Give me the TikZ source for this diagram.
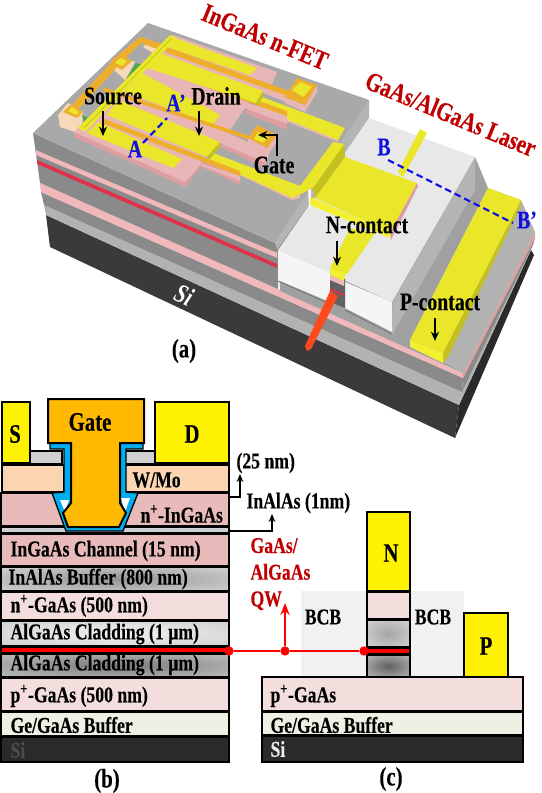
\documentclass[tikz,border=0pt]{standalone}
\usepackage{fontspec}
\setmainfont[FakeStretch=0.78,BoldFeatures={FakeBold=0.25}]{Liberation Serif}
\usetikzlibrary{arrows.meta}
\definecolor{topgray}{HTML}{A9A9A9}
\definecolor{facegray}{HTML}{8A8A8A}
\definecolor{sidegray}{HTML}{B4B4B4}
\definecolor{ledgegray}{HTML}{A0A0A0}
\definecolor{litegray}{HTML}{B2B2B2}
\definecolor{sidark}{HTML}{3A3A3A}
\definecolor{pinktop}{HTML}{E8B6B6}
\definecolor{pinkside}{HTML}{DC9E9E}
\definecolor{pinkband}{HTML}{F0B8BA}
\definecolor{redline}{HTML}{E0304A}
\definecolor{ylw}{HTML}{EAE62A}
\definecolor{ylwdark}{HTML}{C4C020}
\definecolor{ylwfront}{HTML}{F2F030}
\definecolor{orng}{HTML}{EDAE2C}
\definecolor{beige}{HTML}{F5D9B8}
\definecolor{bcbtop}{HTML}{E8E8E8}
\definecolor{bcbfront}{HTML}{F5F5F5}
\definecolor{laserred}{HTML}{FF4A20}
\definecolor{darkred}{HTML}{C00000}
\definecolor{lblblue}{HTML}{1010E0}
\definecolor{chanpink}{HTML}{E8BABA}
\definecolor{lightpink}{HTML}{F3DDDD}
\definecolor{bufcream}{HTML}{F0EFE3}
\definecolor{sifill}{HTML}{2A2A2A}
\definecolor{wmo}{HTML}{FBD5B2}
\definecolor{capgray}{HTML}{D0D0D0}
\definecolor{gateorng}{HTML}{FFB900}
\definecolor{linerblue}{HTML}{00AEEF}
\definecolor{bcbflat}{HTML}{F1F1F1}
\pgfdeclareradialshading{glowlow}{\pgfpointorigin}{color(0bp)=(black!52); color(50bp)=(black!15)}
\pgfdeclareradialshading{glowhigh}{\pgfpointorigin}{color(0bp)=(black!5); color(50bp)=(black!24)}
\pgfdeclareradialshading{glowbuf}{\pgfpointorigin}{color(0bp)=(black!42); color(50bp)=(black!8)}
\pgfdeclareradialshading{glowpilup}{\pgfpointorigin}{color(0bp)=(black!35); color(50bp)=(black!10)}
\pgfdeclareradialshading{glowpildn}{\pgfpointorigin}{color(0bp)=(black!62); color(50bp)=(black!14)}
\tikzset{every picture/.style={line width=0.75pt},
  lbl/.style={font=\bfseries\fontsize{19}{19}\selectfont,inner sep=0.75pt},
  biglbl/.style={font=\bfseries\fontsize{20}{20}\selectfont,inner sep=0.75pt},
  laylbl/.style={font=\bfseries\fontsize{17}{17}\selectfont,inner sep=0.75pt,anchor=west},
  bluelbl/.style={lbl,text=lblblue},
  titlelbl/.style={font=\bfseries\fontsize{20}{20}\selectfont,inner sep=0.75pt,text=darkred,rotate=-22.5},
  layerbox/.style={draw=black,line width=1.5pt},
  blackarrow/.style={-{Stealth[length=7pt,width=6pt]},line width=1.5pt},
  bluedash/.style={draw=lblblue,line width=1.6pt,dash pattern={on 5pt off 3pt}},
  qwdot/.style={circle,fill=red,inner sep=0pt,minimum size=7pt},
  qwline/.style={draw=red,line width=1.8pt}}
\begin{document}
\begin{tikzpicture}[x=0.75pt,y=0.75pt,yscale=-1,xscale=1]
\useasboundingbox (0,0) rectangle (542,793);

%Block of panel (a): lower layers
\fill[sidark] (46,215) -- (459,405) -- (455,438) -- (50,247) -- cycle;
\fill[sifill] (459,405) -- (531,250) -- (534,255) -- (455,438) -- cycle;
\fill[litegray] (44,205) -- (462,392) -- (459,405) -- (46,215) -- cycle;
\fill[litegray] (462,392) -- (533,245) -- (531,250) -- (459,405) -- cycle;
\fill[facegray] (41,192) -- (463,378) -- (462,392) -- (44,205) -- cycle;
\fill[facegray] (463,378) -- (535,238) -- (533,245) -- (462,392) -- cycle;
\fill[pinkband] (40,183) -- (463,373) -- (463,378) -- (41,192) -- cycle;
\fill[pinkside] (463,373) -- (535,232) -- (535,238) -- (463,378) -- cycle;

%Ledge under the laser
\fill[ledgegray] (278,250) -- (475,157) -- (488,188) -- (410,340) -- (463,373) -- (280,291) -- cycle;
\fill[litegray] (488,188) -- (521,200) -- (535,232) -- (463,373) -- (410,340) -- cycle;
\fill[sidegray] (475,157) -- (475,190) -- (392,335) -- (393,302) -- cycle;
\draw[black!55,line width=0.6pt] (278,281) -- (330,304);
\draw[black!55,line width=0.6pt] (345,310) -- (392,334);

%Front face of the FET mesa
\fill[facegray] (33,133) -- (275,243) -- (278,250) -- (278,290) -- (40,183) -- cycle;
\fill[pinkband] (35.5,150) -- (275,252) -- (277,252) -- (277,258) -- (36,155) -- cycle;
\fill[redline] (37,160) -- (277,264) -- (277,268) -- (37,164) -- cycle;
\fill[pinkband] (40,183) -- (280,290) -- (280,296) -- (41,192) -- cycle;
\fill[sidegray] (369,100) -- (369,120) -- (278,250) -- (275,243) -- cycle;
\draw[black!70,line width=0.7pt] (369,120) -- (278,250);

%Top of the FET mesa
\fill[topgray] (33,133) -- (148,23) -- (369,100) -- (275,243) -- cycle;

%Laser BCB
\fill[bcbtop] (369,118) -- (475,157) -- (392,302) -- (278,250) -- cycle;
\fill[bcbfront] (278,250) -- (330,273) -- (330,302) -- (278,280) -- cycle;
\fill[bcbfront] (345,282) -- (392,302) -- (392,332) -- (345,308) -- cycle;
\fill[white] (308,187) -- (311,187) -- (311,207) -- (309,207) -- cycle;

%Pillar under the N contact
\fill[facegray!70!black] (330,272) -- (345,279) -- (345,308) -- (330,302) -- cycle;
\fill[pinkband] (330,275) -- (344,281) -- (344,286) -- (330,280) -- cycle;
\fill[redline] (330,288) -- (344,294) -- (344,296) -- (330,290) -- cycle;
\fill[ylwfront] (330,268) -- (345,274) -- (344,281) -- (330,275) -- cycle;

%Laser beam
\fill[laserred] (330,291) -- (338,296) -- (311,349) -- (307,351) -- (305,346) -- cycle;

%N contact: narrow strips and pad
\fill[ylw] (420,129) -- (427,133) -- (403,177) -- (398,172) -- cycle;
\fill[ylw] (375,233) -- (347,274) -- (345,274) -- (330,268) -- (350,228) -- cycle;
\fill[pinkside] (417,183) -- (418,186) -- (391,240) -- (390,232) -- cycle;
\fill[ylwfront] (310,197) -- (390,232) -- (390,238) -- (310,205) -- cycle;
\fill[ylw] (345,157) -- (417,183) -- (390,232) -- (315,198) -- cycle;
\fill[ylwdark] (344,144) -- (345,157) -- (315,198) -- (313,188) -- cycle;

%Yellow traces over the mesa
\fill[pinktop] (208,160) -- (292,200) -- (300,198) -- (300,190) -- cycle;
\fill[pinktop] (258,110) -- (338,142) -- (338,139) -- (258,106) -- cycle;
\fill[ylw] (262,97) -- (345,128) -- (338,140) -- (258,108) -- cycle;
\fill[ylw] (333,142) -- (344,144) -- (313,188) -- (292,198) -- (208,160) -- (213,153) -- (300,186) -- cycle;

%P contact
\fill[ylwdark] (443,353) -- (443,363) -- (449,355) -- (521,205) -- (521,200) -- cycle;
\fill[ylwfront] (410,340) -- (443,353) -- (443,363) -- (410,347) -- cycle;
\fill[ylw] (488,188) -- (521,200) -- (443,353) -- (410,340) -- cycle;

%Pads behind the gate rail
\fill[beige] (58,115) -- (68,103) -- (83,112) -- (82,128) -- (75,132) -- (60,127) -- cycle;
\fill[beige] (112,68) -- (122,58) -- (135,62) -- (125,80) -- cycle;
\fill[beige] (143,47) -- (148,43) -- (158,48) -- (153,53) -- cycle;
\fill[green!50!black!70] (136,63) -- (143,65) -- (127,78) -- cycle;
\fill[green!50!black!70] (82,115) -- (88,118) -- (84,122) -- cycle;
\fill[orng] (72,105) -- (112,62) -- (118,66) -- (78,110) -- cycle;
\fill[orng] (112,60) -- (140,37) -- (172,47) -- (168,53) -- (141,43) -- (118,65) -- cycle;
\fill[orng] (63,112) -- (70,105) -- (83,112) -- (77,118) -- cycle;
\fill[ylw] (68,111) -- (72,107) -- (79,112) -- (76,115) -- cycle;
\fill[orng] (110,63) -- (120,53) -- (132,61) -- (122,70) -- cycle;
\fill[ylw] (115,63) -- (120,58) -- (127,61) -- (122,66) -- cycle;

%Pink comb of the FET, side then top
\fill[pinkside] (74,132) -- (74,137) -- (185,187) -- (201,167) -- (240,185) -- (240,173) -- (200,158) -- cycle;
\fill[pinkside] (220,147) -- (266,168) -- (267,155) -- (228,133) -- cycle;
\fill[pinkside] (245,113) -- (287,130) -- (287,116) -- (248,103) -- cycle;
\fill[pinktop] (74,132) -- (173,35) -- (277,72) -- (272,84) -- (256,92) -- (248,103) -- (287,116) -- (287,124) -- (245,108) -- (228,133) -- (270,152) -- (266,163) -- (220,143) -- (200,163) -- (240,176) -- (240,181) -- (200,165) -- (185,182) -- cycle;
\fill[pinktop] (262,84) -- (290,94) -- (286,102) -- (258,91) -- cycle;

%Gate finger lines behind the fingers
\fill[orng] (152,63) -- (287,111) -- (287,116) -- (152,68) -- cycle;
\fill[orng] (167,47) -- (300,95) -- (298,100) -- (165,52) -- cycle;

%Yellow fingers and bar
\fill[ylw] (87,133) -- (98,122) -- (182,159) -- (173,168) -- cycle;
\fill[ylw] (107,115) -- (118,100) -- (220,142) -- (207,157) -- cycle;
\fill[ylwdark] (220,142) -- (220,147) -- (210,159) -- (207,157) -- cycle;
\fill[ylw] (125,92) -- (142,73) -- (220,115) -- (213,125) -- cycle;
\fill[ylw] (147,68) -- (160,53) -- (263,91) -- (256,103) -- cycle;
\fill[ylwdark] (263,91) -- (263,97) -- (258,105) -- (256,103) -- cycle;
\fill[ylw] (167,47) -- (175,38) -- (257,68) -- (250,75) -- cycle;
\fill[orng] (102,118) -- (240,171) -- (240,176) -- (102,123) -- cycle;
\fill[orng] (103,87) -- (250,136) -- (250,140) -- (103,91) -- cycle;
\fill[ylw] (78,128) -- (170,35) -- (177,38) -- (85,132) -- cycle;
\draw[ylwdark,line width=0.5pt] (84,128) -- (172,38);

%Gate pads on the right
\fill[pinktop] (248,138) -- (267,148) -- (277,135) -- (277,142) -- (267,156) -- (248,146) -- cycle;
\fill[orng] (257,125) -- (277,135) -- (267,148) -- (248,138) -- cycle;
\fill[ylw] (258,132) -- (268,137) -- (263,143) -- (254,139) -- cycle;
\fill[pinktop] (285,97) -- (305,105) -- (317,85) -- (317,92) -- (305,112) -- (285,103) -- cycle;
\fill[orng] (297,78) -- (317,85) -- (305,105) -- (285,97) -- cycle;
\fill[ylw] (300,82) -- (312,87) -- (303,97) -- (292,90) -- cycle;

% Text Node
\node (titleFet) [titlelbl] at (265,37) {InGaAs n-FET};
\node (titleLaser) [titlelbl] at (451,114) {GaAs/AlGaAs Laser};
\node (lblSource) [lbl] at (113,96) {Source};
\node (lblDrain) [lbl] at (216,96) {Drain};
\node (lblGate) [lbl] at (274,165) {Gate};
\node (lblA) [bluelbl] at (135,149) {A};
\node (lblAp) [bluelbl] at (176,103) {A’};
\node (lblB) [bluelbl] at (384,147) {B};
\node (lblBp) [bluelbl] at (527,220) {B’};
\node (lblNc) [lbl] at (367,225) {N-contact};
\node (lblPc) [lbl] at (440,302) {P-contact};
\node (lblSi) [lbl,font=\bfseries\itshape\fontsize{20}{20}\selectfont,text=white,rotate=-25] at (184,295) {Si};
\node (lblPa) [biglbl] at (184,351) {(a)};

%Arrows of panel (a)
\coordinate (srcFrom) at (103,111);
\coordinate (srcTo) at (103,136);
\coordinate (drnFrom) at (199,111);
\coordinate (drnTo) at (199,136);
\coordinate (gatFrom) at (277,156);
\coordinate (gatMid) at (277,135);
\coordinate (gatTo) at (258,135);
\coordinate (nFrom) at (337,241);
\coordinate (nTo) at (337,266);
\coordinate (pFrom) at (435,318);
\coordinate (pTo) at (435,341);
\coordinate (aFrom) at (143,143);
\coordinate (aTo) at (167,118);
\coordinate (bFrom) at (388,160);
\coordinate (bTo) at (513,223);
\draw[blackarrow] (srcFrom) -- (srcTo);
\draw[blackarrow] (drnFrom) -- (drnTo);
\draw[blackarrow] (gatFrom) -- (gatMid) -- (gatTo);
\draw[blackarrow] (nFrom) -- (nTo);
\draw[blackarrow] (pFrom) -- (pTo);
\draw[bluedash] (aFrom) -- (aTo);
\draw[bluedash] (bFrom) -- (bTo);

%Stack of panel (b)
\draw[layerbox,fill=sifill] (1,737) rectangle (229,762);
\draw[layerbox,fill=bufcream] (1,712) rectangle (229,736);
\draw[layerbox,fill=lightpink] (1,678) rectangle (229,711);
\shadedraw[layerbox,shading=glowlow] (1,654) rectangle (229,677);
\draw[layerbox,fill=black] (1,646) rectangle (229,654);
\shadedraw[layerbox,shading=glowhigh] (1,621) rectangle (229,646);
\draw[layerbox,fill=lightpink] (1,592) rectangle (229,620);
\shadedraw[layerbox,shading=glowbuf] (1,567) rectangle (229,591);
\draw[layerbox,fill=chanpink] (1,534) rectangle (229,566);
\draw[layerbox,fill=capgray] (1,527) rectangle (229,533);
\draw[layerbox,fill=chanpink] (1,493) rectangle (229,526);
\draw[layerbox,fill=wmo] (2,465) rectangle (64,492);
\draw[layerbox,fill=wmo] (125,465) rectangle (229,492);
\draw[layerbox,fill=capgray] (30,451) rectangle (62,464);
\draw[layerbox,fill=capgray] (125,451) rectangle (155,464);
\draw[layerbox,fill=yellow] (2,402) rectangle (30,463);
\draw[layerbox,fill=yellow] (155,402) rectangle (229,463);

%Gate and its liner
\fill[linerblue,draw=black,line width=1pt] (50,443) -- (143,443) -- (143,449) -- (126,449) -- (126,492) -- (138,493) -- (123,531) -- (66,531) -- (52,493) -- (64,492) -- (64,449) -- (50,449) -- cycle;
\fill[white] (60,500) -- (69,500) -- (65,512) -- cycle;
\fill[white] (121,498) -- (130,498) -- (125,512) -- cycle;
\draw[layerbox,fill=gateorng] (48,399) -- (144,399) -- (144,443) -- (120,443) -- (120,503) -- (126,513) -- (119,527) -- (68,527) -- (63,513) -- (71,503) -- (71,443) -- (48,443) -- cycle;

%Red quantum well line
\draw[draw=red,line width=3pt] (2,650) -- (229,650);

%Stack of panel (c)
\fill[bcbflat] (301,591) rectangle (366,677);
\fill[bcbflat] (411,591) rectangle (464,677);
\draw[layerbox,fill=yellow] (367,512) rectangle (410,591);
\draw[layerbox,fill=lightpink] (367,592) rectangle (410,619);
\shadedraw[layerbox,shading=glowpilup] (367,620) rectangle (410,647);
\draw[layerbox,fill=black] (367,647) rectangle (410,655);
\draw[draw=red,line width=3pt] (364,651) -- (409,651);
\shadedraw[layerbox,shading=glowpildn] (367,655) rectangle (410,677);
\draw[layerbox,fill=yellow] (464,613) rectangle (508,677);
\draw[layerbox,fill=sifill] (262,736) rectangle (523,762);
\draw[layerbox,fill=bufcream] (262,712) rectangle (523,735);
\draw[layerbox,fill=lightpink] (262,677) rectangle (523,711);

%Labelled lines between the panels
\node (dotA) [qwdot] at (229,651) {};
\node (dotB) [qwdot] at (285,651) {};
\node (dotC) [qwdot] at (364,651) {};
\coordinate (qwTop) at (285,603);
\draw[qwline] (dotA) -- (dotB) -- (dotC);
\draw[qwline,-{Stealth[length=9pt,width=7pt]}] (dotB) -- (qwTop);
\coordinate (capFrom) at (229,497);
\coordinate (capMid) at (240,497);
\coordinate (capTo) at (240,474);
\coordinate (inFrom) at (229,531);
\coordinate (inMid) at (272,531);
\coordinate (inTo) at (272,514);
\draw[blackarrow,-{Stealth[length=6pt,width=5pt]}] (capFrom) -- (capMid) -- (capTo);
\draw[blackarrow,-{Stealth[length=6pt,width=5pt]}] (inFrom) -- (inMid) -- (inTo);

% Text Node
\node (txtS) [biglbl] at (15,434) {S};
\node (txtD) [biglbl] at (192,434) {D};
\node (txtGate) [biglbl] at (90,422) {Gate};
\node (txtWmo) [laylbl] at (131,480) {W/Mo};
\node (txtNing) [laylbl] at (139,514) {n\textsuperscript{+}-InGaAs};
\node (txtChan) [laylbl] at (9,551) {InGaAs Channel (15 nm)};
\node (txtBuf) [laylbl] at (7,579) {InAlAs Buffer (800 nm)};
\node (txtNgaas) [laylbl] at (9,606) {n\textsuperscript{+}-GaAs (500 nm)};
\node (txtCladA) [laylbl] at (9,634) {AlGaAs Cladding (1 µm)};
\node (txtCladB) [laylbl] at (9,665) {AlGaAs Cladding (1 µm)};
\node (txtPgaas) [laylbl] at (9,696) {p\textsuperscript{+}-GaAs (500 nm)};
\node (txtGe) [laylbl] at (9,725) {Ge/GaAs Buffer};
\node (txtSi) [laylbl,text=black!70] at (9,750) {Si};
\node (txtCap) [laylbl] at (235,463) {(25 nm)};
\node (txtInal) [laylbl] at (245,503) {InAlAs (1nm)};
\node (txtQw) [laylbl,text=darkred,align=left,font=\bfseries\fontsize{17}{20}\selectfont] at (249,574) {GaAs/\\AlGaAs\\QW};
\node (txtBcbL) [lbl,font=\bfseries\fontsize{17}{17}\selectfont] at (323,617) {BCB};
\node (txtBcbR) [lbl,font=\bfseries\fontsize{17}{17}\selectfont] at (433,617) {BCB};
\node (txtN) [biglbl] at (391,553) {N};
\node (txtP) [biglbl] at (486,646) {P};
\node (txtPc) [laylbl] at (269,696) {p\textsuperscript{+}-GaAs};
\node (txtGec) [laylbl] at (269,725) {Ge/GaAs Buffer};
\node (txtSic) [laylbl,text=black!8] at (269,749) {Si};
\node (lblPb) [biglbl] at (107,781) {(b)};
\node (lblPc2) [biglbl] at (391,779) {(c)};
\end{tikzpicture}
\end{document}
